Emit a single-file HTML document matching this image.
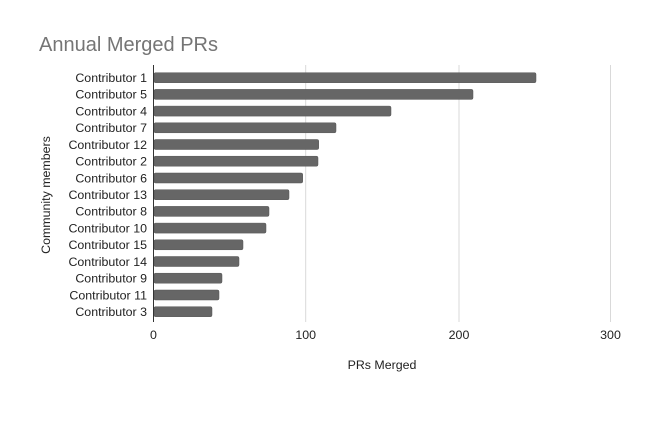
<!DOCTYPE html>
<html><head><meta charset="utf-8"><style>
body{margin:0;background:#fff;}
svg text{font-family:"Liberation Sans",Arial,sans-serif;}
</style></head><body>
<svg width="670" height="417" viewBox="0 0 670 417" xmlns="http://www.w3.org/2000/svg">
<rect width="670" height="417" fill="#fff"/>
<text x="39" y="51" font-size="20" fill="#757575">Annual Merged PRs</text>
<g stroke="#d9d9d9" stroke-width="1">
<line x1="305.7" y1="65" x2="305.7" y2="322"/>
<line x1="459" y1="65" x2="459" y2="322"/>
<line x1="610.5" y1="65" x2="610.5" y2="322"/>
</g>
<g fill="#666" stroke="#555" stroke-width="0.5">
<rect x="154" y="72.7" width="382" height="10" rx="1.5"/>
<rect x="154" y="89.4" width="319" height="10" rx="1.5"/>
<rect x="154" y="106.1" width="237" height="10" rx="1.5"/>
<rect x="154" y="122.8" width="182" height="10" rx="1.5"/>
<rect x="154" y="139.5" width="164.7" height="10" rx="1.5"/>
<rect x="154" y="156.2" width="164" height="10" rx="1.5"/>
<rect x="154" y="173" width="148.7" height="10" rx="1.5"/>
<rect x="154" y="189.7" width="135" height="10" rx="1.5"/>
<rect x="154" y="206.4" width="115" height="10" rx="1.5"/>
<rect x="154" y="223.1" width="112" height="10" rx="1.5"/>
<rect x="154" y="239.8" width="89" height="10" rx="1.5"/>
<rect x="154" y="256.5" width="85" height="10" rx="1.5"/>
<rect x="154" y="273.2" width="68" height="10" rx="1.5"/>
<rect x="154" y="290" width="65" height="10" rx="1.5"/>
<rect x="154" y="306.7" width="58" height="10" rx="1.5"/>
</g>
<line x1="153.5" y1="65" x2="153.5" y2="322" stroke="#333" stroke-width="1"/>
<g font-size="12.4" fill="#222" text-anchor="end">
<text x="147" y="82">Contributor 1</text>
<text x="147" y="98.7">Contributor 5</text>
<text x="147" y="115.4">Contributor 4</text>
<text x="147" y="132.1">Contributor 7</text>
<text x="147" y="148.8">Contributor 12</text>
<text x="147" y="165.5">Contributor 2</text>
<text x="147" y="182.3">Contributor 6</text>
<text x="147" y="199">Contributor 13</text>
<text x="147" y="215.7">Contributor 8</text>
<text x="147" y="232.4">Contributor 10</text>
<text x="147" y="249.1">Contributor 15</text>
<text x="147" y="265.8">Contributor 14</text>
<text x="147" y="282.5">Contributor 9</text>
<text x="147" y="299.3">Contributor 11</text>
<text x="147" y="316">Contributor 3</text>
</g>
<g font-size="12.4" fill="#222" text-anchor="middle">
<text x="153.5" y="339">0</text>
<text x="305.7" y="339">100</text>
<text x="459" y="339">200</text>
<text x="610.5" y="339">300</text>
<text x="382" y="369">PRs Merged</text>
</g>
<text transform="translate(50,195) rotate(-90)" font-size="12.4" fill="#222" text-anchor="middle">Community members</text>
</svg>
</body></html>
